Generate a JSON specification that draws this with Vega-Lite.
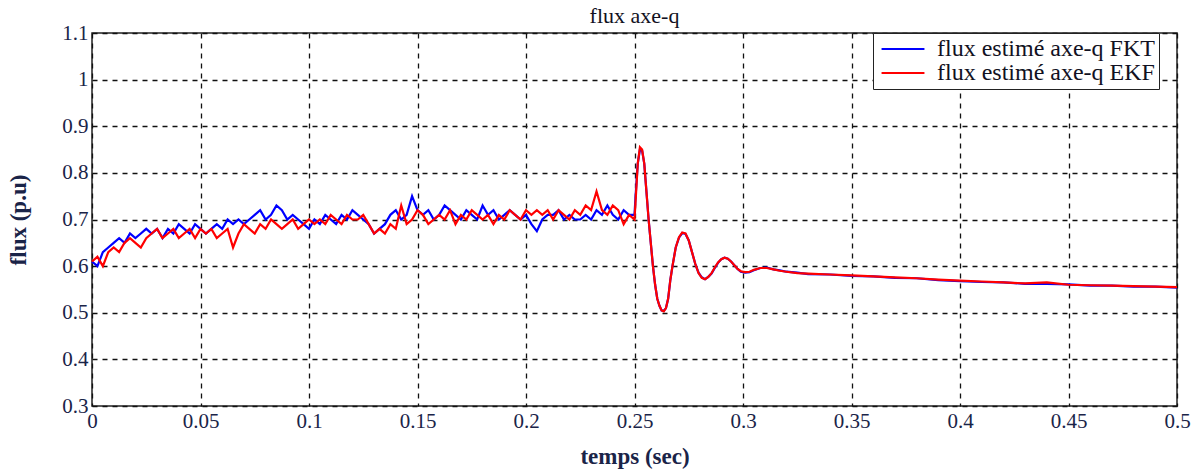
{
"$schema": "https://vega.github.io/schema/vega-lite/v6.json",
"width": 1085,
"height": 373,
"autosize": {"type": "none"},
"padding": {"left": 92, "top": 33, "right": 20, "bottom": 69},
"background": "white",
"title": {"text": "flux axe-q", "font": "Liberation Serif", "fontSize": 22, "fontWeight": "normal", "color": "#111122", "offset": 0, "dy": 6},
"config": {
  "view": {"stroke": "#222222", "strokeWidth": 1.5},
  "axis": {"labelFont": "Liberation Serif", "labelFontSize": 21, "labelColor": "#1a2448", "titleFont": "Liberation Serif", "titleFontSize": 23, "titleFontWeight": "bold", "titleColor": "#1a2448", "grid": true, "gridColor": "#111111", "gridDash": [5, 5], "gridWidth": 1.3, "gridOpacity": 1, "domain": false, "ticks": false}
},
"datasets": {
"d": [
{"t":0.000,"v":0.61,"s":"flux estimé axe-q FKT"},{"t":0.0025,"v":0.60,"s":"flux estimé axe-q FKT"},{"t":0.005,"v":0.63,"s":"flux estimé axe-q FKT"},{"t":0.0075,"v":0.64,"s":"flux estimé axe-q FKT"},{"t":0.010,"v":0.65,"s":"flux estimé axe-q FKT"},{"t":0.0125,"v":0.66,"s":"flux estimé axe-q FKT"},{"t":0.015,"v":0.65,"s":"flux estimé axe-q FKT"},{"t":0.0175,"v":0.67,"s":"flux estimé axe-q FKT"},{"t":0.020,"v":0.66,"s":"flux estimé axe-q FKT"},{"t":0.0225,"v":0.67,"s":"flux estimé axe-q FKT"},
{"t":0.025,"v":0.68,"s":"flux estimé axe-q FKT"},{"t":0.0275,"v":0.67,"s":"flux estimé axe-q FKT"},{"t":0.030,"v":0.68,"s":"flux estimé axe-q FKT"},{"t":0.0325,"v":0.66,"s":"flux estimé axe-q FKT"},{"t":0.035,"v":0.68,"s":"flux estimé axe-q FKT"},{"t":0.0375,"v":0.67,"s":"flux estimé axe-q FKT"},{"t":0.040,"v":0.69,"s":"flux estimé axe-q FKT"},{"t":0.0425,"v":0.68,"s":"flux estimé axe-q FKT"},{"t":0.045,"v":0.67,"s":"flux estimé axe-q FKT"},{"t":0.0475,"v":0.69,"s":"flux estimé axe-q FKT"},
{"t":0.050,"v":0.68,"s":"flux estimé axe-q FKT"},{"t":0.0525,"v":0.67,"s":"flux estimé axe-q FKT"},{"t":0.055,"v":0.68,"s":"flux estimé axe-q FKT"},{"t":0.0575,"v":0.69,"s":"flux estimé axe-q FKT"},{"t":0.060,"v":0.68,"s":"flux estimé axe-q FKT"},{"t":0.0625,"v":0.70,"s":"flux estimé axe-q FKT"},{"t":0.065,"v":0.69,"s":"flux estimé axe-q FKT"},{"t":0.0675,"v":0.70,"s":"flux estimé axe-q FKT"},{"t":0.070,"v":0.69,"s":"flux estimé axe-q FKT"},{"t":0.0725,"v":0.70,"s":"flux estimé axe-q FKT"},
{"t":0.075,"v":0.71,"s":"flux estimé axe-q FKT"},{"t":0.0775,"v":0.72,"s":"flux estimé axe-q FKT"},{"t":0.080,"v":0.70,"s":"flux estimé axe-q FKT"},{"t":0.0825,"v":0.71,"s":"flux estimé axe-q FKT"},{"t":0.085,"v":0.73,"s":"flux estimé axe-q FKT"},{"t":0.0875,"v":0.72,"s":"flux estimé axe-q FKT"},{"t":0.090,"v":0.70,"s":"flux estimé axe-q FKT"},{"t":0.0925,"v":0.71,"s":"flux estimé axe-q FKT"},{"t":0.095,"v":0.70,"s":"flux estimé axe-q FKT"},{"t":0.0975,"v":0.69,"s":"flux estimé axe-q FKT"},
{"t":0.100,"v":0.68,"s":"flux estimé axe-q FKT"},{"t":0.1025,"v":0.70,"s":"flux estimé axe-q FKT"},{"t":0.105,"v":0.69,"s":"flux estimé axe-q FKT"},{"t":0.1075,"v":0.71,"s":"flux estimé axe-q FKT"},{"t":0.110,"v":0.70,"s":"flux estimé axe-q FKT"},{"t":0.1125,"v":0.69,"s":"flux estimé axe-q FKT"},{"t":0.115,"v":0.71,"s":"flux estimé axe-q FKT"},{"t":0.1175,"v":0.70,"s":"flux estimé axe-q FKT"},{"t":0.120,"v":0.72,"s":"flux estimé axe-q FKT"},{"t":0.1225,"v":0.71,"s":"flux estimé axe-q FKT"},
{"t":0.125,"v":0.70,"s":"flux estimé axe-q FKT"},{"t":0.1275,"v":0.69,"s":"flux estimé axe-q FKT"},{"t":0.130,"v":0.67,"s":"flux estimé axe-q FKT"},{"t":0.1325,"v":0.68,"s":"flux estimé axe-q FKT"},{"t":0.135,"v":0.69,"s":"flux estimé axe-q FKT"},{"t":0.1375,"v":0.71,"s":"flux estimé axe-q FKT"},{"t":0.140,"v":0.72,"s":"flux estimé axe-q FKT"},{"t":0.1425,"v":0.70,"s":"flux estimé axe-q FKT"},{"t":0.145,"v":0.71,"s":"flux estimé axe-q FKT"},{"t":0.1475,"v":0.75,"s":"flux estimé axe-q FKT"},
{"t":0.150,"v":0.72,"s":"flux estimé axe-q FKT"},{"t":0.1525,"v":0.71,"s":"flux estimé axe-q FKT"},{"t":0.155,"v":0.72,"s":"flux estimé axe-q FKT"},{"t":0.1575,"v":0.70,"s":"flux estimé axe-q FKT"},{"t":0.160,"v":0.71,"s":"flux estimé axe-q FKT"},{"t":0.1625,"v":0.73,"s":"flux estimé axe-q FKT"},{"t":0.165,"v":0.72,"s":"flux estimé axe-q FKT"},{"t":0.1675,"v":0.71,"s":"flux estimé axe-q FKT"},{"t":0.170,"v":0.70,"s":"flux estimé axe-q FKT"},{"t":0.1725,"v":0.72,"s":"flux estimé axe-q FKT"},
{"t":0.175,"v":0.71,"s":"flux estimé axe-q FKT"},{"t":0.1775,"v":0.70,"s":"flux estimé axe-q FKT"},{"t":0.180,"v":0.73,"s":"flux estimé axe-q FKT"},{"t":0.1825,"v":0.71,"s":"flux estimé axe-q FKT"},{"t":0.185,"v":0.72,"s":"flux estimé axe-q FKT"},{"t":0.1875,"v":0.70,"s":"flux estimé axe-q FKT"},{"t":0.190,"v":0.71,"s":"flux estimé axe-q FKT"},{"t":0.1925,"v":0.72,"s":"flux estimé axe-q FKT"},{"t":0.195,"v":0.71,"s":"flux estimé axe-q FKT"},{"t":0.1975,"v":0.70,"s":"flux estimé axe-q FKT"},
{"t":0.200,"v":0.71,"s":"flux estimé axe-q FKT"},{"t":0.2025,"v":0.69,"s":"flux estimé axe-q FKT"},{"t":0.205,"v":0.675,"s":"flux estimé axe-q FKT"},{"t":0.2075,"v":0.70,"s":"flux estimé axe-q FKT"},{"t":0.210,"v":0.71,"s":"flux estimé axe-q FKT"},{"t":0.2125,"v":0.71,"s":"flux estimé axe-q FKT"},{"t":0.215,"v":0.72,"s":"flux estimé axe-q FKT"},{"t":0.2175,"v":0.70,"s":"flux estimé axe-q FKT"},{"t":0.220,"v":0.71,"s":"flux estimé axe-q FKT"},{"t":0.2225,"v":0.70,"s":"flux estimé axe-q FKT"},
{"t":0.225,"v":0.70,"s":"flux estimé axe-q FKT"},{"t":0.2275,"v":0.71,"s":"flux estimé axe-q FKT"},{"t":0.230,"v":0.70,"s":"flux estimé axe-q FKT"},{"t":0.2325,"v":0.72,"s":"flux estimé axe-q FKT"},{"t":0.235,"v":0.71,"s":"flux estimé axe-q FKT"},{"t":0.2375,"v":0.73,"s":"flux estimé axe-q FKT"},{"t":0.240,"v":0.71,"s":"flux estimé axe-q FKT"},{"t":0.2425,"v":0.70,"s":"flux estimé axe-q FKT"},{"t":0.245,"v":0.72,"s":"flux estimé axe-q FKT"},{"t":0.2475,"v":0.71,"s":"flux estimé axe-q FKT"},
{"t":0.250,"v":0.71,"s":"flux estimé axe-q FKT"},{"t":0.2505,"v":0.75,"s":"flux estimé axe-q FKT"},{"t":0.2515,"v":0.82,"s":"flux estimé axe-q FKT"},{"t":0.2525,"v":0.85,"s":"flux estimé axe-q FKT"},{"t":0.2535,"v":0.848,"s":"flux estimé axe-q FKT"},{"t":0.2545,"v":0.82,"s":"flux estimé axe-q FKT"},{"t":0.2555,"v":0.76,"s":"flux estimé axe-q FKT"},{"t":0.2565,"v":0.70,"s":"flux estimé axe-q FKT"},{"t":0.2575,"v":0.65,"s":"flux estimé axe-q FKT"},{"t":0.2585,"v":0.60,"s":"flux estimé axe-q FKT"},
{"t":0.2595,"v":0.56,"s":"flux estimé axe-q FKT"},{"t":0.2605,"v":0.53,"s":"flux estimé axe-q FKT"},{"t":0.2615,"v":0.515,"s":"flux estimé axe-q FKT"},{"t":0.2625,"v":0.505,"s":"flux estimé axe-q FKT"},{"t":0.2635,"v":0.504,"s":"flux estimé axe-q FKT"},{"t":0.2645,"v":0.51,"s":"flux estimé axe-q FKT"},{"t":0.2655,"v":0.53,"s":"flux estimé axe-q FKT"},{"t":0.2665,"v":0.57,"s":"flux estimé axe-q FKT"},{"t":0.2675,"v":0.60,"s":"flux estimé axe-q FKT"},{"t":0.2690,"v":0.64,"s":"flux estimé axe-q FKT"},
{"t":0.2705,"v":0.661,"s":"flux estimé axe-q FKT"},{"t":0.2720,"v":0.671,"s":"flux estimé axe-q FKT"},{"t":0.2735,"v":0.669,"s":"flux estimé axe-q FKT"},{"t":0.2750,"v":0.655,"s":"flux estimé axe-q FKT"},{"t":0.2765,"v":0.63,"s":"flux estimé axe-q FKT"},{"t":0.2780,"v":0.605,"s":"flux estimé axe-q FKT"},{"t":0.2795,"v":0.586,"s":"flux estimé axe-q FKT"},{"t":0.2810,"v":0.576,"s":"flux estimé axe-q FKT"},{"t":0.2825,"v":0.572,"s":"flux estimé axe-q FKT"},{"t":0.2840,"v":0.577,"s":"flux estimé axe-q FKT"},
{"t":0.2855,"v":0.584,"s":"flux estimé axe-q FKT"},{"t":0.2870,"v":0.596,"s":"flux estimé axe-q FKT"},{"t":0.2885,"v":0.607,"s":"flux estimé axe-q FKT"},{"t":0.2900,"v":0.615,"s":"flux estimé axe-q FKT"},{"t":0.2915,"v":0.618,"s":"flux estimé axe-q FKT"},{"t":0.2930,"v":0.616,"s":"flux estimé axe-q FKT"},{"t":0.2945,"v":0.61,"s":"flux estimé axe-q FKT"},{"t":0.2960,"v":0.602,"s":"flux estimé axe-q FKT"},{"t":0.2975,"v":0.594,"s":"flux estimé axe-q FKT"},{"t":0.2990,"v":0.588,"s":"flux estimé axe-q FKT"},
{"t":0.3010,"v":0.586,"s":"flux estimé axe-q FKT"},{"t":0.3030,"v":0.587,"s":"flux estimé axe-q FKT"},{"t":0.3050,"v":0.591,"s":"flux estimé axe-q FKT"},{"t":0.3080,"v":0.596,"s":"flux estimé axe-q FKT"},{"t":0.3110,"v":0.597,"s":"flux estimé axe-q FKT"},{"t":0.3140,"v":0.593,"s":"flux estimé axe-q FKT"},{"t":0.3170,"v":0.591,"s":"flux estimé axe-q FKT"},{"t":0.3200,"v":0.588,"s":"flux estimé axe-q FKT"},{"t":0.3250,"v":0.586,"s":"flux estimé axe-q FKT"},{"t":0.3300,"v":0.583,"s":"flux estimé axe-q FKT"},
{"t":0.340,"v":0.582,"s":"flux estimé axe-q FKT"},{"t":0.350,"v":0.579,"s":"flux estimé axe-q FKT"},{"t":0.360,"v":0.578,"s":"flux estimé axe-q FKT"},{"t":0.370,"v":0.575,"s":"flux estimé axe-q FKT"},{"t":0.380,"v":0.574,"s":"flux estimé axe-q FKT"},{"t":0.390,"v":0.570,"s":"flux estimé axe-q FKT"},{"t":0.400,"v":0.568,"s":"flux estimé axe-q FKT"},{"t":0.410,"v":0.566,"s":"flux estimé axe-q FKT"},{"t":0.420,"v":0.565,"s":"flux estimé axe-q FKT"},{"t":0.430,"v":0.562,"s":"flux estimé axe-q FKT"},
{"t":0.440,"v":0.562,"s":"flux estimé axe-q FKT"},{"t":0.450,"v":0.561,"s":"flux estimé axe-q FKT"},{"t":0.460,"v":0.558,"s":"flux estimé axe-q FKT"},{"t":0.470,"v":0.558,"s":"flux estimé axe-q FKT"},{"t":0.480,"v":0.556,"s":"flux estimé axe-q FKT"},{"t":0.490,"v":0.556,"s":"flux estimé axe-q FKT"},{"t":0.500,"v":0.554,"s":"flux estimé axe-q FKT"},

{"t":0.000,"v":0.61,"s":"flux estimé axe-q EKF"},{"t":0.0025,"v":0.62,"s":"flux estimé axe-q EKF"},{"t":0.005,"v":0.60,"s":"flux estimé axe-q EKF"},{"t":0.0075,"v":0.63,"s":"flux estimé axe-q EKF"},{"t":0.010,"v":0.64,"s":"flux estimé axe-q EKF"},{"t":0.0125,"v":0.63,"s":"flux estimé axe-q EKF"},{"t":0.015,"v":0.65,"s":"flux estimé axe-q EKF"},{"t":0.0175,"v":0.66,"s":"flux estimé axe-q EKF"},{"t":0.020,"v":0.65,"s":"flux estimé axe-q EKF"},{"t":0.0225,"v":0.64,"s":"flux estimé axe-q EKF"},
{"t":0.025,"v":0.66,"s":"flux estimé axe-q EKF"},{"t":0.0275,"v":0.67,"s":"flux estimé axe-q EKF"},{"t":0.030,"v":0.68,"s":"flux estimé axe-q EKF"},{"t":0.0325,"v":0.66,"s":"flux estimé axe-q EKF"},{"t":0.035,"v":0.67,"s":"flux estimé axe-q EKF"},{"t":0.0375,"v":0.68,"s":"flux estimé axe-q EKF"},{"t":0.040,"v":0.66,"s":"flux estimé axe-q EKF"},{"t":0.0425,"v":0.67,"s":"flux estimé axe-q EKF"},{"t":0.045,"v":0.68,"s":"flux estimé axe-q EKF"},{"t":0.0475,"v":0.66,"s":"flux estimé axe-q EKF"},
{"t":0.050,"v":0.68,"s":"flux estimé axe-q EKF"},{"t":0.0525,"v":0.67,"s":"flux estimé axe-q EKF"},{"t":0.055,"v":0.68,"s":"flux estimé axe-q EKF"},{"t":0.0575,"v":0.66,"s":"flux estimé axe-q EKF"},{"t":0.060,"v":0.67,"s":"flux estimé axe-q EKF"},{"t":0.0625,"v":0.68,"s":"flux estimé axe-q EKF"},{"t":0.065,"v":0.64,"s":"flux estimé axe-q EKF"},{"t":0.0675,"v":0.67,"s":"flux estimé axe-q EKF"},{"t":0.070,"v":0.69,"s":"flux estimé axe-q EKF"},{"t":0.0725,"v":0.68,"s":"flux estimé axe-q EKF"},
{"t":0.075,"v":0.67,"s":"flux estimé axe-q EKF"},{"t":0.0775,"v":0.69,"s":"flux estimé axe-q EKF"},{"t":0.080,"v":0.68,"s":"flux estimé axe-q EKF"},{"t":0.0825,"v":0.70,"s":"flux estimé axe-q EKF"},{"t":0.085,"v":0.69,"s":"flux estimé axe-q EKF"},{"t":0.0875,"v":0.68,"s":"flux estimé axe-q EKF"},{"t":0.090,"v":0.69,"s":"flux estimé axe-q EKF"},{"t":0.0925,"v":0.70,"s":"flux estimé axe-q EKF"},{"t":0.095,"v":0.68,"s":"flux estimé axe-q EKF"},{"t":0.0975,"v":0.69,"s":"flux estimé axe-q EKF"},
{"t":0.100,"v":0.70,"s":"flux estimé axe-q EKF"},{"t":0.1025,"v":0.69,"s":"flux estimé axe-q EKF"},{"t":0.105,"v":0.70,"s":"flux estimé axe-q EKF"},{"t":0.1075,"v":0.69,"s":"flux estimé axe-q EKF"},{"t":0.110,"v":0.71,"s":"flux estimé axe-q EKF"},{"t":0.1125,"v":0.70,"s":"flux estimé axe-q EKF"},{"t":0.115,"v":0.69,"s":"flux estimé axe-q EKF"},{"t":0.1175,"v":0.71,"s":"flux estimé axe-q EKF"},{"t":0.120,"v":0.70,"s":"flux estimé axe-q EKF"},{"t":0.1225,"v":0.70,"s":"flux estimé axe-q EKF"},
{"t":0.125,"v":0.71,"s":"flux estimé axe-q EKF"},{"t":0.1275,"v":0.69,"s":"flux estimé axe-q EKF"},{"t":0.130,"v":0.67,"s":"flux estimé axe-q EKF"},{"t":0.1325,"v":0.68,"s":"flux estimé axe-q EKF"},{"t":0.135,"v":0.67,"s":"flux estimé axe-q EKF"},{"t":0.1375,"v":0.69,"s":"flux estimé axe-q EKF"},{"t":0.140,"v":0.68,"s":"flux estimé axe-q EKF"},{"t":0.1425,"v":0.73,"s":"flux estimé axe-q EKF"},{"t":0.145,"v":0.69,"s":"flux estimé axe-q EKF"},{"t":0.1475,"v":0.70,"s":"flux estimé axe-q EKF"},
{"t":0.150,"v":0.72,"s":"flux estimé axe-q EKF"},{"t":0.1525,"v":0.71,"s":"flux estimé axe-q EKF"},{"t":0.155,"v":0.69,"s":"flux estimé axe-q EKF"},{"t":0.1575,"v":0.70,"s":"flux estimé axe-q EKF"},{"t":0.160,"v":0.71,"s":"flux estimé axe-q EKF"},{"t":0.1625,"v":0.70,"s":"flux estimé axe-q EKF"},{"t":0.165,"v":0.72,"s":"flux estimé axe-q EKF"},{"t":0.1675,"v":0.69,"s":"flux estimé axe-q EKF"},{"t":0.170,"v":0.71,"s":"flux estimé axe-q EKF"},{"t":0.1725,"v":0.70,"s":"flux estimé axe-q EKF"},
{"t":0.175,"v":0.72,"s":"flux estimé axe-q EKF"},{"t":0.1775,"v":0.71,"s":"flux estimé axe-q EKF"},{"t":0.180,"v":0.70,"s":"flux estimé axe-q EKF"},{"t":0.1825,"v":0.71,"s":"flux estimé axe-q EKF"},{"t":0.185,"v":0.69,"s":"flux estimé axe-q EKF"},{"t":0.1875,"v":0.71,"s":"flux estimé axe-q EKF"},{"t":0.190,"v":0.70,"s":"flux estimé axe-q EKF"},{"t":0.1925,"v":0.72,"s":"flux estimé axe-q EKF"},{"t":0.195,"v":0.71,"s":"flux estimé axe-q EKF"},{"t":0.1975,"v":0.70,"s":"flux estimé axe-q EKF"},
{"t":0.200,"v":0.72,"s":"flux estimé axe-q EKF"},{"t":0.2025,"v":0.71,"s":"flux estimé axe-q EKF"},{"t":0.205,"v":0.72,"s":"flux estimé axe-q EKF"},{"t":0.2075,"v":0.71,"s":"flux estimé axe-q EKF"},{"t":0.210,"v":0.72,"s":"flux estimé axe-q EKF"},{"t":0.2125,"v":0.70,"s":"flux estimé axe-q EKF"},{"t":0.215,"v":0.72,"s":"flux estimé axe-q EKF"},{"t":0.2175,"v":0.71,"s":"flux estimé axe-q EKF"},{"t":0.220,"v":0.70,"s":"flux estimé axe-q EKF"},{"t":0.2225,"v":0.72,"s":"flux estimé axe-q EKF"},
{"t":0.225,"v":0.71,"s":"flux estimé axe-q EKF"},{"t":0.2275,"v":0.73,"s":"flux estimé axe-q EKF"},{"t":0.230,"v":0.72,"s":"flux estimé axe-q EKF"},{"t":0.2325,"v":0.76,"s":"flux estimé axe-q EKF"},{"t":0.235,"v":0.72,"s":"flux estimé axe-q EKF"},{"t":0.2375,"v":0.71,"s":"flux estimé axe-q EKF"},{"t":0.240,"v":0.73,"s":"flux estimé axe-q EKF"},{"t":0.2425,"v":0.72,"s":"flux estimé axe-q EKF"},{"t":0.245,"v":0.69,"s":"flux estimé axe-q EKF"},{"t":0.2475,"v":0.71,"s":"flux estimé axe-q EKF"},
{"t":0.250,"v":0.70,"s":"flux estimé axe-q EKF"},{"t":0.2505,"v":0.74,"s":"flux estimé axe-q EKF"},{"t":0.2515,"v":0.82,"s":"flux estimé axe-q EKF"},{"t":0.2525,"v":0.855,"s":"flux estimé axe-q EKF"},{"t":0.2535,"v":0.85,"s":"flux estimé axe-q EKF"},{"t":0.2545,"v":0.82,"s":"flux estimé axe-q EKF"},{"t":0.2555,"v":0.76,"s":"flux estimé axe-q EKF"},{"t":0.2565,"v":0.70,"s":"flux estimé axe-q EKF"},{"t":0.2575,"v":0.65,"s":"flux estimé axe-q EKF"},{"t":0.2585,"v":0.60,"s":"flux estimé axe-q EKF"},
{"t":0.2595,"v":0.56,"s":"flux estimé axe-q EKF"},{"t":0.2605,"v":0.53,"s":"flux estimé axe-q EKF"},{"t":0.2615,"v":0.515,"s":"flux estimé axe-q EKF"},{"t":0.2625,"v":0.505,"s":"flux estimé axe-q EKF"},{"t":0.2635,"v":0.503,"s":"flux estimé axe-q EKF"},{"t":0.2645,"v":0.51,"s":"flux estimé axe-q EKF"},{"t":0.2655,"v":0.53,"s":"flux estimé axe-q EKF"},{"t":0.2665,"v":0.57,"s":"flux estimé axe-q EKF"},{"t":0.2675,"v":0.60,"s":"flux estimé axe-q EKF"},{"t":0.2690,"v":0.64,"s":"flux estimé axe-q EKF"},
{"t":0.2705,"v":0.662,"s":"flux estimé axe-q EKF"},{"t":0.2720,"v":0.672,"s":"flux estimé axe-q EKF"},{"t":0.2735,"v":0.670,"s":"flux estimé axe-q EKF"},{"t":0.2750,"v":0.655,"s":"flux estimé axe-q EKF"},{"t":0.2765,"v":0.63,"s":"flux estimé axe-q EKF"},{"t":0.2780,"v":0.605,"s":"flux estimé axe-q EKF"},{"t":0.2795,"v":0.585,"s":"flux estimé axe-q EKF"},{"t":0.2810,"v":0.575,"s":"flux estimé axe-q EKF"},{"t":0.2825,"v":0.572,"s":"flux estimé axe-q EKF"},{"t":0.2840,"v":0.577,"s":"flux estimé axe-q EKF"},
{"t":0.2855,"v":0.585,"s":"flux estimé axe-q EKF"},{"t":0.2870,"v":0.597,"s":"flux estimé axe-q EKF"},{"t":0.2885,"v":0.608,"s":"flux estimé axe-q EKF"},{"t":0.2900,"v":0.615,"s":"flux estimé axe-q EKF"},{"t":0.2915,"v":0.618,"s":"flux estimé axe-q EKF"},{"t":0.2930,"v":0.616,"s":"flux estimé axe-q EKF"},{"t":0.2945,"v":0.61,"s":"flux estimé axe-q EKF"},{"t":0.2960,"v":0.602,"s":"flux estimé axe-q EKF"},{"t":0.2975,"v":0.594,"s":"flux estimé axe-q EKF"},{"t":0.2990,"v":0.589,"s":"flux estimé axe-q EKF"},
{"t":0.3010,"v":0.587,"s":"flux estimé axe-q EKF"},{"t":0.3030,"v":0.588,"s":"flux estimé axe-q EKF"},{"t":0.3050,"v":0.592,"s":"flux estimé axe-q EKF"},{"t":0.3080,"v":0.596,"s":"flux estimé axe-q EKF"},{"t":0.3110,"v":0.596,"s":"flux estimé axe-q EKF"},{"t":0.3140,"v":0.593,"s":"flux estimé axe-q EKF"},{"t":0.3170,"v":0.590,"s":"flux estimé axe-q EKF"},{"t":0.3200,"v":0.588,"s":"flux estimé axe-q EKF"},{"t":0.3250,"v":0.585,"s":"flux estimé axe-q EKF"},{"t":0.3300,"v":0.584,"s":"flux estimé axe-q EKF"},
{"t":0.340,"v":0.582,"s":"flux estimé axe-q EKF"},{"t":0.350,"v":0.580,"s":"flux estimé axe-q EKF"},{"t":0.360,"v":0.578,"s":"flux estimé axe-q EKF"},{"t":0.370,"v":0.576,"s":"flux estimé axe-q EKF"},{"t":0.380,"v":0.574,"s":"flux estimé axe-q EKF"},{"t":0.390,"v":0.571,"s":"flux estimé axe-q EKF"},{"t":0.400,"v":0.569,"s":"flux estimé axe-q EKF"},{"t":0.410,"v":0.567,"s":"flux estimé axe-q EKF"},{"t":0.420,"v":0.565,"s":"flux estimé axe-q EKF"},{"t":0.430,"v":0.563,"s":"flux estimé axe-q EKF"},
{"t":0.440,"v":0.565,"s":"flux estimé axe-q EKF"},{"t":0.450,"v":0.560,"s":"flux estimé axe-q EKF"},{"t":0.460,"v":0.559,"s":"flux estimé axe-q EKF"},{"t":0.470,"v":0.558,"s":"flux estimé axe-q EKF"},{"t":0.480,"v":0.557,"s":"flux estimé axe-q EKF"},{"t":0.490,"v":0.556,"s":"flux estimé axe-q EKF"},{"t":0.500,"v":0.555,"s":"flux estimé axe-q EKF"}
]
},
"data": {"name": "d"},
"mark": {"type": "line", "strokeWidth": 2.2, "interpolate": "linear"},
"encoding": {
  "x": {"field": "t", "type": "quantitative", "title": "temps (sec)", "scale": {"domain": [0, 0.5], "nice": false}, "axis": {"values": [0, 0.05, 0.1, 0.15, 0.2, 0.25, 0.3, 0.35, 0.4, 0.45, 0.5], "labelExpr": "datum.value === 0 ? '0' : format(datum.value, '.2~f')", "labelPadding": 4, "titlePadding": 14, "labelFlush": false}},
  "y": {"field": "v", "type": "quantitative", "title": "flux (p.u)", "scale": {"domain": [0.3, 1.1], "nice": false}, "axis": {"values": [0.3, 0.4, 0.5, 0.6, 0.7, 0.8, 0.9, 1.0, 1.1], "labelExpr": "format(datum.value, '.1~f')", "labelPadding": 4, "titlePadding": 31, "labelFlush": false}},
  "color": {"field": "s", "type": "nominal", "sort": ["flux estimé axe-q FKT", "flux estimé axe-q EKF"], "scale": {"domain": ["flux estimé axe-q FKT", "flux estimé axe-q EKF"], "range": ["#0000ff", "#ff0000"]},
    "legend": {"title": null, "orient": "none", "legendX": 781, "legendY": 0, "symbolType": "M-2,0H2", "symbolSize": 460, "symbolStrokeWidth": 2, "symbolOffset": 14, "labelFont": "Liberation Serif", "labelFontSize": 24, "labelColor": "#111122", "labelOffset": 22, "fillColor": "white", "strokeColor": "#222222", "padding": 4, "rowPadding": 0, "labelLimit": 400}
  },
  "order": {"field": "t"}
}
}
